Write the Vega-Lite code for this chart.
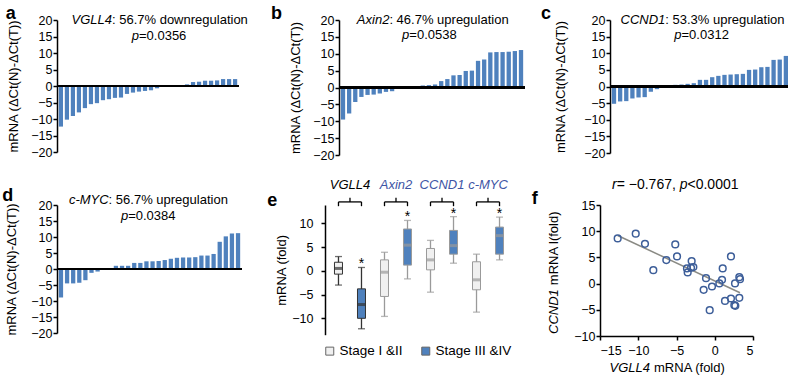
{
  "$schema": "https://vega.github.io/schema/vega-lite/v6.json",
  "padding": {"left": 2, "top": 5, "right": 0, "bottom": 0},
  "background": "white",
  "spacing": 16,
  "config": {
    "font": "Liberation Sans",
    "view": {"stroke": null},
    "axis": {"labelFont": "Liberation Sans", "titleFont": "Liberation Sans", "labelFontSize": 12.5, "titleFontSize": 13, "titleFontWeight": "normal", "labelColor": "#000", "titleColor": "#000", "domainColor": "#000", "tickColor": "#000", "domainWidth": 1.5, "tickWidth": 1.5, "tickSize": 4, "labelPadding": 1, "grid": false, "labelOverlap": false},
    "title": {"font": "Liberation Sans", "fontSize": 18, "fontWeight": "bold", "anchor": "start", "frame": "bounds", "color": "#000"},
    "text": {"font": "Liberation Sans", "fontSize": 13, "color": "#000"},
    "legend": {"labelFont": "Liberation Sans"}
  },
  "vconcat": [
    {
      "spacing": 14,
      "hconcat": [
        {
          "spacing": 22,
          "hconcat": [
            {
              "width": 182, "height": 132,
              "title": {"text": "a", "offset": -9, "dx": -2},
              "data": {"values": [
                {"i":1,"v":-12.3},{"i":2,"v":-10.2},{"i":3,"v":-9.1},{"i":4,"v":-8.0},{"i":5,"v":-6.7},{"i":6,"v":-5.5},{"i":7,"v":-5.2},{"i":8,"v":-4.3},{"i":9,"v":-4.0},{"i":10,"v":-3.6},
                {"i":11,"v":-3.5},{"i":12,"v":-2.4},{"i":13,"v":-2.0},{"i":14,"v":-1.7},{"i":15,"v":-1.5},{"i":16,"v":-1.3},{"i":17,"v":-0.7},{"i":18,"v":0.05},{"i":19,"v":0.1},{"i":20,"v":0.15},
                {"i":21,"v":0.3},{"i":22,"v":0.5},{"i":23,"v":1.2},{"i":24,"v":1.3},{"i":25,"v":1.6},{"i":26,"v":1.6},{"i":27,"v":1.7},{"i":28,"v":2.1},{"i":29,"v":2.1},{"i":30,"v":2.1}
              ]},
              "layer": [
                {"mark": {"type": "bar", "color": "#4f81bd"},
                 "encoding": {
                   "x": {"field": "i", "type": "ordinal", "axis": null, "scale": {"paddingInner": 0.3, "paddingOuter": 0.3}},
                   "y": {"field": "v", "type": "quantitative", "scale": {"domain": [-20, 20], "nice": false}, "axis": {"values": [-20,-15,-10,-5,0,5,10,15,20], "tickCount": 20, "labelOverlap": false, "labelExpr": "replace(datum.label, '-', '−')", "title": "mRNA (ΔCt(N)-ΔCt(T))", "titlePadding": 10}}
                 }},
                {"mark": {"type": "rule", "color": "#000", "strokeWidth": 1.5}, "encoding": {"y": {"datum": 0}}},
                {"data": {"values": [{"t": "VGLL4"}]}, "mark": {"type": "text", "fontStyle": "italic", "align": "right", "baseline": "middle", "dx": -3}, "encoding": {"x": {"datum": 10, "type": "ordinal"}, "y": {"datum": 20}, "text": {"field": "t"}}},
                {"data": {"values": [{"t": ": 56.7% downregulation"}]}, "mark": {"type": "text", "align": "left", "baseline": "middle", "dx": -3}, "encoding": {"x": {"datum": 10, "type": "ordinal"}, "y": {"datum": 20}, "text": {"field": "t"}}},
                {"data": {"values": [{"t": "p"}]}, "mark": {"type": "text", "fontStyle": "italic", "align": "right", "baseline": "middle"}, "encoding": {"x": {"datum": 14, "type": "ordinal"}, "y": {"datum": 15.2}, "text": {"field": "t"}}},
                {"data": {"values": [{"t": "=0.0356"}]}, "mark": {"type": "text", "align": "left", "baseline": "middle"}, "encoding": {"x": {"datum": 14, "type": "ordinal"}, "y": {"datum": 15.2}, "text": {"field": "t"}}}
              ]
            },
            {
              "width": 186, "height": 135,
              "title": {"text": "b", "offset": -9, "dx": -18.5},
              "data": {"values": [
                {"i":1,"v":-9.5},{"i":2,"v":-7.7},{"i":3,"v":-4.3},{"i":4,"v":-2.8},{"i":5,"v":-2.2},{"i":6,"v":-2.1},{"i":7,"v":-1.8},{"i":8,"v":-1.3},{"i":9,"v":-1.1},{"i":10,"v":0.1},
                {"i":11,"v":0.15},{"i":12,"v":0.2},{"i":13,"v":0.3},{"i":14,"v":0.6},{"i":15,"v":0.7},{"i":16,"v":0.9},{"i":17,"v":1.9},{"i":18,"v":2.5},{"i":19,"v":3.6},{"i":20,"v":3.7},
                {"i":21,"v":4.9},{"i":22,"v":5.0},{"i":23,"v":7.9},{"i":24,"v":8.3},{"i":25,"v":10.4},{"i":26,"v":10.5},{"i":27,"v":10.5},{"i":28,"v":10.6},{"i":29,"v":10.8},{"i":30,"v":11.1}
              ]},
              "layer": [
                {"mark": {"type": "bar", "color": "#4f81bd"},
                 "encoding": {
                   "x": {"field": "i", "type": "ordinal", "axis": null, "scale": {"paddingInner": 0.3, "paddingOuter": 0.3}},
                   "y": {"field": "v", "type": "quantitative", "scale": {"domain": [-20, 20], "nice": false}, "axis": {"values": [-20,-15,-10,-5,0,5,10,15,20], "tickCount": 20, "labelOverlap": false, "labelExpr": "replace(datum.label, '-', '−')", "title": "mRNA (ΔCt(N)-ΔCt(T))", "titlePadding": 10.3}}
                 }},
                {"mark": {"type": "rule", "color": "#000", "strokeWidth": 1.5}, "encoding": {"y": {"datum": 0}}},
                {"data": {"values": [{"t": "Axin2"}]}, "mark": {"type": "text", "fontStyle": "italic", "align": "right", "baseline": "middle", "dx": -2.7}, "encoding": {"x": {"datum": 9, "type": "ordinal"}, "y": {"datum": 20}, "text": {"field": "t"}}},
                {"data": {"values": [{"t": ": 46.7% upregulation"}]}, "mark": {"type": "text", "align": "left", "baseline": "middle", "dx": -2.7}, "encoding": {"x": {"datum": 9, "type": "ordinal"}, "y": {"datum": 20}, "text": {"field": "t"}}},
                {"data": {"values": [{"t": "p"}]}, "mark": {"type": "text", "fontStyle": "italic", "align": "right", "baseline": "middle", "dx": -1.2}, "encoding": {"x": {"datum": 12, "type": "ordinal"}, "y": {"datum": 15.5}, "text": {"field": "t"}}},
                {"data": {"values": [{"t": "=0.0538"}]}, "mark": {"type": "text", "align": "left", "baseline": "middle", "dx": -1.2}, "encoding": {"x": {"datum": 12, "type": "ordinal"}, "y": {"datum": 15.5}, "text": {"field": "t"}}}
              ]
            }
          ]
        },
        {
          "width": 186, "height": 133,
          "title": {"text": "c", "offset": -9, "dx": -13.5},
          "data": {"values": [
            {"i":1,"v":-5.2},{"i":2,"v":-4.5},{"i":3,"v":-4.4},{"i":4,"v":-3.6},{"i":5,"v":-3.3},{"i":6,"v":-3.2},{"i":7,"v":-1.6},{"i":8,"v":-0.8},{"i":9,"v":0.1},{"i":10,"v":0.2},
            {"i":11,"v":0.5},{"i":12,"v":0.6},{"i":13,"v":0.8},{"i":14,"v":1.0},{"i":15,"v":2.0},{"i":16,"v":2.0},{"i":17,"v":2.8},{"i":18,"v":3.2},{"i":19,"v":3.5},{"i":20,"v":3.6},
            {"i":21,"v":3.7},{"i":22,"v":3.8},{"i":23,"v":5.0},{"i":24,"v":5.1},{"i":25,"v":5.8},{"i":26,"v":5.9},{"i":27,"v":8.0},{"i":28,"v":8.1},{"i":29,"v":9.2},{"i":30,"v":10.1}
          ]},
          "layer": [
            {"mark": {"type": "bar", "color": "#4f81bd"},
             "encoding": {
               "x": {"field": "i", "type": "ordinal", "axis": null, "scale": {"paddingInner": 0.3, "paddingOuter": 0.3}},
               "y": {"field": "v", "type": "quantitative", "scale": {"domain": [-20, 20], "nice": false}, "axis": {"values": [-20,-15,-10,-5,0,5,10,15,20], "tickCount": 20, "labelOverlap": false, "labelExpr": "replace(datum.label, '-', '−')", "title": "mRNA (ΔCt(N)-ΔCt(T))", "titlePadding": 16.3}}
             }},
            {"mark": {"type": "rule", "color": "#000", "strokeWidth": 1.5}, "encoding": {"y": {"datum": 0}}},
            {"data": {"values": [{"t": "CCND1"}]}, "mark": {"type": "text", "fontStyle": "italic", "align": "right", "baseline": "middle", "dx": 2.2}, "encoding": {"x": {"datum": 9, "type": "ordinal"}, "y": {"datum": 20}, "text": {"field": "t"}}},
            {"data": {"values": [{"t": ": 53.3% upregulation"}]}, "mark": {"type": "text", "align": "left", "baseline": "middle", "dx": 2.2}, "encoding": {"x": {"datum": 9, "type": "ordinal"}, "y": {"datum": 20}, "text": {"field": "t"}}},
            {"data": {"values": [{"t": "p"}]}, "mark": {"type": "text", "fontStyle": "italic", "align": "right", "baseline": "middle"}, "encoding": {"x": {"datum": 12, "type": "ordinal"}, "y": {"datum": 15.4}, "text": {"field": "t"}}},
            {"data": {"values": [{"t": "=0.0312"}]}, "mark": {"type": "text", "align": "left", "baseline": "middle"}, "encoding": {"x": {"datum": 12, "type": "ordinal"}, "y": {"datum": 15.4}, "text": {"field": "t"}}}
          ]
        }
      ]
    },
    {
      "spacing": 18,
      "hconcat": [
        {
          "spacing": 24,
          "hconcat": [
            {
              "width": 185, "height": 128,
              "title": {"text": "d", "offset": -11, "dx": -3.5},
              "data": {"values": [
                {"i":1,"v":-8.9},{"i":2,"v":-4.5},{"i":3,"v":-4.5},{"i":4,"v":-4.3},{"i":5,"v":-3.5},{"i":6,"v":-1.2},{"i":7,"v":-0.8},{"i":8,"v":0.1},{"i":9,"v":0.2},{"i":10,"v":1.0},
                {"i":11,"v":1.0},{"i":12,"v":1.0},{"i":13,"v":1.9},{"i":14,"v":1.9},{"i":15,"v":2.4},{"i":16,"v":2.4},{"i":17,"v":2.5},{"i":18,"v":2.8},{"i":19,"v":3.2},{"i":20,"v":3.5},
                {"i":21,"v":3.6},{"i":22,"v":3.6},{"i":23,"v":3.7},{"i":24,"v":4.2},{"i":25,"v":4.2},{"i":26,"v":4.7},{"i":27,"v":8.5},{"i":28,"v":10.2},{"i":29,"v":11.1},{"i":30,"v":11.2}
              ]},
              "layer": [
                {"mark": {"type": "bar", "color": "#4f81bd"},
                 "encoding": {
                   "x": {"field": "i", "type": "ordinal", "axis": null, "scale": {"paddingInner": 0.3, "paddingOuter": 0.3}},
                   "y": {"field": "v", "type": "quantitative", "scale": {"domain": [-20, 20], "nice": false}, "axis": {"values": [-20,-15,-10,-5,0,5,10,15,20], "tickCount": 20, "labelOverlap": false, "labelExpr": "replace(datum.label, '-', '−')", "title": "mRNA (ΔCt(N)-ΔCt(T))", "titlePadding": 12}}
                 }},
                {"mark": {"type": "rule", "color": "#000", "strokeWidth": 1.5}, "encoding": {"y": {"datum": 0}}},
                {"data": {"values": [{"t": "c-MYC"}]}, "mark": {"type": "text", "fontStyle": "italic", "align": "right", "baseline": "middle", "dx": -1.2}, "encoding": {"x": {"datum": 9, "type": "ordinal"}, "y": {"datum": 21.6}, "text": {"field": "t"}}},
                {"data": {"values": [{"t": ": 56.7% upregulation"}]}, "mark": {"type": "text", "align": "left", "baseline": "middle", "dx": -1.2}, "encoding": {"x": {"datum": 9, "type": "ordinal"}, "y": {"datum": 21.6}, "text": {"field": "t"}}},
                {"data": {"values": [{"t": "p"}]}, "mark": {"type": "text", "fontStyle": "italic", "align": "right", "baseline": "middle"}, "encoding": {"x": {"datum": 12, "type": "ordinal"}, "y": {"datum": 16.7}, "text": {"field": "t"}}},
                {"data": {"values": [{"t": "=0.0384"}]}, "mark": {"type": "text", "align": "left", "baseline": "middle"}, "encoding": {"x": {"datum": 12, "type": "ordinal"}, "y": {"datum": 16.7}, "text": {"field": "t"}}}
              ]
            },
            {
              "width": 188, "height": 129.7,
              "title": {"text": "e", "offset": -31, "dx": -8.5},
              "data": {"values": [
                {"gene":"VGLL4","stage":"Stage I &II","min":-3.0,"q1":-0.7,"med":0.5,"q3":1.8,"max":3.0},
                {"gene":"VGLL4","stage":"Stage III &IV","min":-12.2,"q1":-10.0,"med":-7.1,"q3":-3.8,"max":0.7},
                {"gene":"Axin2","stage":"Stage I &II","min":-9.6,"q1":-5.4,"med":-0.3,"q3":2.3,"max":3.9},
                {"gene":"Axin2","stage":"Stage III &IV","min":-1.7,"q1":1.2,"med":5.4,"q3":8.8,"max":10.6},
                {"gene":"CCND1","stage":"Stage I &II","min":-4.5,"q1":0.2,"med":2.3,"q3":4.7,"max":6.4},
                {"gene":"CCND1","stage":"Stage III &IV","min":1.6,"q1":3.5,"med":5.3,"q3":8.5,"max":11.4},
                {"gene":"c-MYC","stage":"Stage I &II","min":-8.7,"q1":-4.0,"med":-1.9,"q3":1.9,"max":3.5},
                {"gene":"c-MYC","stage":"Stage III &IV","min":2.3,"q1":3.5,"med":7.4,"q3":9.2,"max":11.3}
              ]},
              "layer": [
                {"mark": {"type": "rule", "strokeWidth": 1.3},
                 "encoding": {
                   "x": {"field": "gene", "type": "nominal", "sort": ["VGLL4","Axin2","CCND1","c-MYC"], "scale": {"domain": ["VGLL4","Axin2","CCND1","c-MYC"], "paddingInner": 0, "paddingOuter": 0.043}, "axis": {"orient": "top", "title": null, "domain": false, "ticks": false, "labelPadding": 13.3, "labelAngle": 0, "labelFontSize": 13, "labelFontStyle": "italic", "labelOverlap": false, "labelColor": {"condition": {"test": "datum.value == 'VGLL4'", "value": "#000000"}, "value": "#3e55a5"}}},
                   "xOffset": {"field": "stage", "type": "nominal", "scale": {"domain": ["Stage I &II","Stage III &IV"]}},
                   "y": {"field": "min", "type": "quantitative", "title": "mRNA (fold)", "scale": {"domain": [-13.45, 13.85], "nice": false}, "axis": {"values": [-10,-5,0,5,10], "tickCount": 20, "labelOverlap": false, "labelExpr": "replace(datum.label, '-', '−')", "title": "mRNA (fold)", "titlePadding": 3, "labelPadding": 8}},
                   "y2": {"field": "max"},
                   "stroke": {"field": "gene", "type": "nominal", "scale": {"domain": ["VGLL4","Axin2","CCND1","c-MYC"], "range": ["#333333","#9a9a9a","#9a9a9a","#9a9a9a"]}, "legend": null}
                 }},
                {"mark": {"type": "tick", "size": 7, "thickness": 1.3},
                 "encoding": {
                   "x": {"field": "gene", "type": "nominal", "sort": ["VGLL4","Axin2","CCND1","c-MYC"]},
                   "xOffset": {"field": "stage", "type": "nominal"},
                   "y": {"field": "min", "type": "quantitative", "title": "mRNA (fold)"},
                   "color": {"field": "gene", "type": "nominal", "scale": {"domain": ["VGLL4","Axin2","CCND1","c-MYC"], "range": ["#333333","#9a9a9a","#9a9a9a","#9a9a9a"]}, "legend": null}
                 }},
                {"mark": {"type": "tick", "size": 7, "thickness": 1.3},
                 "encoding": {
                   "x": {"field": "gene", "type": "nominal", "sort": ["VGLL4","Axin2","CCND1","c-MYC"]},
                   "xOffset": {"field": "stage", "type": "nominal"},
                   "y": {"field": "max", "type": "quantitative", "title": "mRNA (fold)"},
                   "color": {"field": "gene", "type": "nominal", "legend": null}
                 }},
                {"mark": {"type": "bar", "width": 8, "strokeWidth": 1},
                 "encoding": {
                   "x": {"field": "gene", "type": "nominal", "sort": ["VGLL4","Axin2","CCND1","c-MYC"]},
                   "xOffset": {"field": "stage", "type": "nominal"},
                   "y": {"field": "q1", "type": "quantitative", "title": "mRNA (fold)"},
                   "y2": {"field": "q3"},
                   "fill": {"field": "stage", "type": "nominal", "scale": {"domain": ["Stage I &II","Stage III &IV"], "range": ["#f0f0f0","#4f81bd"]}, "legend": {"orient": "none", "legendX": 266, "legendY": 324, "title": null, "direction": "horizontal", "symbolType": "square", "symbolSize": 64, "labelFontSize": 13.5, "symbolStrokeColor": "#666", "symbolStrokeWidth": 1, "columnPadding": 16, "labelOffset": 3}},
                   "stroke": {"field": "gene", "type": "nominal", "legend": null}
                 }},
                {"mark": {"type": "tick", "size": 8, "thickness": 3},
                 "encoding": {
                   "x": {"field": "gene", "type": "nominal", "sort": ["VGLL4","Axin2","CCND1","c-MYC"]},
                   "xOffset": {"field": "stage", "type": "nominal"},
                   "y": {"field": "med", "type": "quantitative", "title": "mRNA (fold)"},
                   "color": {"field": "gene", "type": "nominal", "legend": null}
                 }},
                {"transform": [{"filter": "datum.stage == 'Stage III &IV'"}],
                 "mark": {"type": "text", "text": "*", "fontSize": 14, "baseline": "alphabetic", "dy": 1},
                 "encoding": {
                   "x": {"field": "gene", "type": "nominal", "sort": ["VGLL4","Axin2","CCND1","c-MYC"]},
                   "xOffset": {"field": "stage", "type": "nominal"},
                   "y": {"field": "max", "type": "quantitative", "title": "mRNA (fold)"}
                 }},
                {"mark": {"type": "line", "color": "#000", "strokeWidth": 1.3},
                 "encoding": {
                   "x": {"field": "gene", "type": "nominal", "sort": ["VGLL4","Axin2","CCND1","c-MYC"]},
                   "xOffset": {"field": "stage", "type": "nominal"},
                   "y": {"datum": 14.5},
                   "detail": {"field": "gene"}
                 }},
                {"mark": {"type": "rule", "color": "#000", "strokeWidth": 1.3},
                 "encoding": {
                   "x": {"field": "gene", "type": "nominal", "sort": ["VGLL4","Axin2","CCND1","c-MYC"]},
                   "xOffset": {"field": "stage", "type": "nominal"},
                   "y": {"datum": 13.6},
                   "y2": {"datum": 14.5}
                 }},
                {"transform": [{"filter": "datum.stage == 'Stage III &IV'"}],
                 "mark": {"type": "rule", "color": "#000", "strokeWidth": 1.3},
                 "encoding": {
                   "x": {"field": "gene", "type": "nominal", "sort": ["VGLL4","Axin2","CCND1","c-MYC"]},
                   "y": {"datum": 14.5},
                   "y2": {"datum": 15.4}
                 }}
              ]
            }
          ]
        },
        {
          "width": 153, "height": 131,
          "title": {"text": "f", "offset": -29.8, "dx": -16},
          "data": {"values": [
            {"VGLL4":-12.69,"CCND1":8.63},{"VGLL4":-10.33,"CCND1":9.52},{"VGLL4":-9.12,"CCND1":7.6},{"VGLL4":-8.03,"CCND1":2.57},
            {"VGLL4":-6.33,"CCND1":4.48},{"VGLL4":-5.16,"CCND1":7.48},{"VGLL4":-4.93,"CCND1":5.19},{"VGLL4":-3.63,"CCND1":2.9},
            {"VGLL4":-3.54,"CCND1":2.13},{"VGLL4":-3.02,"CCND1":4.29},{"VGLL4":-3.1,"CCND1":3.02},{"VGLL4":-2.8,"CCND1":3.15},
            {"VGLL4":-1.14,"CCND1":1.04},{"VGLL4":-1.45,"CCND1":-1.19},{"VGLL4":-0.36,"CCND1":-0.55},{"VGLL4":-0.66,"CCND1":-5.08},
            {"VGLL4":0.6,"CCND1":0.03},{"VGLL4":0.95,"CCND1":0.72},{"VGLL4":1.04,"CCND1":2.9},{"VGLL4":1.34,"CCND1":-3.3},
            {"VGLL4":2.12,"CCND1":5.19},{"VGLL4":2.12,"CCND1":-2.84},{"VGLL4":2.65,"CCND1":0.03},{"VGLL4":2.56,"CCND1":-4.12},
            {"VGLL4":2.69,"CCND1":-4.25},{"VGLL4":3.21,"CCND1":-2.72},{"VGLL4":3.21,"CCND1":1.23},{"VGLL4":3.3,"CCND1":0.85}
          ]},
          "layer": [
            {"transform": [{"regression": "CCND1", "on": "VGLL4"}],
             "mark": {"type": "line", "color": "#8a8a84", "strokeWidth": 1.5},
             "encoding": {
               "x": {"field": "VGLL4", "type": "quantitative", "scale": {"domain": [-15, 5], "nice": false}, "axis": {"values": [-15,-10,-5,0,5], "tickCount": 20, "labelOverlap": false, "labelExpr": "replace(datum.label, '-', '−')", "title": null, "labelPadding": 4}},
               "y": {"field": "CCND1", "type": "quantitative", "scale": {"domain": [-10, 15], "nice": false}, "axis": {"values": [-10,-5,0,5,10,15], "tickCount": 20, "labelOverlap": false, "labelExpr": "replace(datum.label, '-', '−')", "title": null}}
             }},
            {"mark": {"type": "point", "shape": "circle", "filled": false, "size": 45, "strokeWidth": 1.5, "color": "#3d5e99", "opacity": 1},
             "encoding": {
               "x": {"field": "VGLL4", "type": "quantitative"},
               "y": {"field": "CCND1", "type": "quantitative"}
             }},
            {"data": {"values": [{"t": "r"}]}, "mark": {"type": "text", "fontSize": 14, "fontStyle": "italic", "align": "right", "baseline": "middle"}, "encoding": {"x": {"datum": -12.82}, "y": {"datum": 18.8}, "text": {"field": "t"}}},
            {"data": {"values": [{"t": "= −0.767,"}]}, "mark": {"type": "text", "fontSize": 14, "align": "left", "baseline": "middle"}, "encoding": {"x": {"datum": -12.82}, "y": {"datum": 18.8}, "text": {"field": "t"}}},
            {"data": {"values": [{"t": "p"}]}, "mark": {"type": "text", "fontSize": 14, "fontStyle": "italic", "align": "right", "baseline": "middle"}, "encoding": {"x": {"datum": -3.56}, "y": {"datum": 18.8}, "text": {"field": "t"}}},
            {"data": {"values": [{"t": "<0.0001"}]}, "mark": {"type": "text", "fontSize": 14, "align": "left", "baseline": "middle"}, "encoding": {"x": {"datum": -3.56}, "y": {"datum": 18.8}, "text": {"field": "t"}}},
            {"data": {"values": [{"t": "CCND1"}]}, "mark": {"type": "text", "angle": 270, "fontStyle": "italic", "align": "right", "baseline": "middle"}, "encoding": {"x": {"datum": -21.05}, "y": {"datum": -1.06}, "text": {"field": "t"}}},
            {"data": {"values": [{"t": "mRNA l(fold)"}]}, "mark": {"type": "text", "angle": 270, "align": "left", "baseline": "middle", "dx": 4}, "encoding": {"x": {"datum": -21.05}, "y": {"datum": -1.06}, "text": {"field": "t"}}},
            {"data": {"values": [{"t": "VGLL4"}]}, "mark": {"type": "text", "fontStyle": "italic", "align": "right", "baseline": "middle"}, "encoding": {"x": {"datum": -8.46}, "y": {"datum": -16.2}, "text": {"field": "t"}}},
            {"data": {"values": [{"t": "mRNA (fold)"}]}, "mark": {"type": "text", "align": "left", "baseline": "middle", "dx": 4}, "encoding": {"x": {"datum": -8.46}, "y": {"datum": -16.2}, "text": {"field": "t"}}}
          ]
        }
      ]
    }
  ]
}
